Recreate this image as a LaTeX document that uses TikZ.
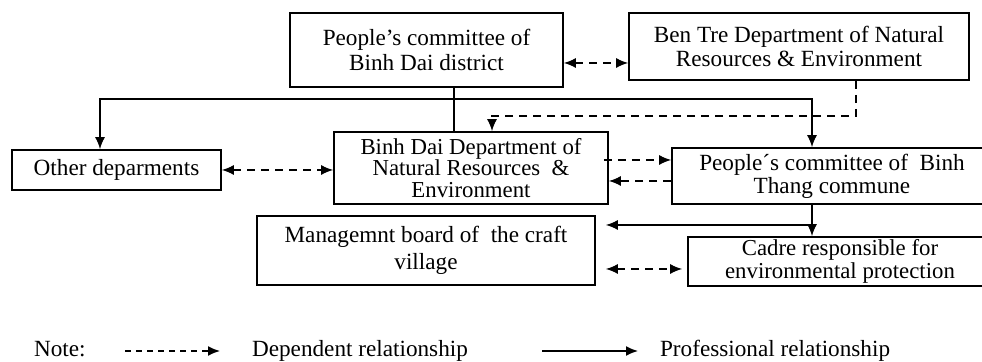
\documentclass[tikz,border=0pt]{standalone}
\usepackage{fontspec}
\setmainfont{Liberation Serif}
\usetikzlibrary{arrows.meta}

\begin{document}
\begin{tikzpicture}[x=0.5pt,y=-0.5pt,
    box/.style={draw,line width=0.8pt,align=center,inner sep=0pt,font=\fontsize{11.6}{12.5}\selectfont},
    dep/.style={line width=0.8pt,dash pattern=on 4pt off 3pt},
    prof/.style={line width=0.8pt},
    >={Latex[length=6pt,width=5pt]}]
  \useasboundingbox (0,0) rectangle (982,362);
  \node[box,minimum width=136.5pt,minimum height=37pt] (pc) at (426.5,50) {People’s committee of\\Binh Dai district};
  \node[box,minimum width=170pt,minimum height=33.5pt,font=\fontsize{11.6}{12}\selectfont] (bt) at (799,46.5) {Ben Tre Department of Natural\\Resources \& Environment};
  \node[box,minimum width=104.5pt,minimum height=20pt] (other) at (116.5,170) {Other deparments};
  \node[box,minimum width=137pt,minimum height=36pt,font=\fontsize{11.4}{10.6}\selectfont] (bd) at (471,168) {Binh Dai Department of\\Natural Resources\ \ \&\\Environment};
  \node[box,minimum width=160pt,minimum height=28pt,font=\fontsize{11.6}{10.5}\selectfont] (com) at (832,176) {People´s committee of\ \ Binh\\Thang commune};
  \node[box,minimum width=169pt,minimum height=34.5pt,font=\fontsize{11.6}{13.5}\selectfont] (board) at (426,250.5) {Managemnt board of\ \ the craft\\village};
  \node[box,minimum width=152pt,minimum height=24.5pt,font=\fontsize{11.4}{9.6}\selectfont] (cadre) at (840,261.5) {Cadre responsible for\\environmental protection};

  \coordinate (hub) at (454,99);
  \coordinate (col) at (812,99);
  \draw[prof] (pc.south -| hub) -- (bd.north -| hub);
  \draw[prof,<->] ([xshift=-8.25pt]other.north) |- (col) -- (col |- com.north);
  \draw[prof,->] (com.south -| col) -- (cadre.north -| col);
  \draw[prof,->,shorten >=5pt] (col |- 0,225) -- (board.east |- 0,225);

  \draw[dep,<->] (pc.east |- 0,63) -- (bt.west |- 0,63);
  \draw[dep,->] ([xshift=28.5pt]bt.south) |- (492,116) -- (bd.north -| 492,0);
  \draw[dep,<->] (other.east) -- (other.east -| bd.west);
  \draw[dep,->] ([xshift=-2.5pt]bd.east |- 0,160) -- (com.west |- 0,160);
  \draw[dep,->] (com.west |- 0,181) -- (bd.east |- 0,181);
  \draw[dep,<->,shorten <=5pt,shorten >=2.5pt] (board.east |- 0,269) -- (cadre.west |- 0,269);

  \node[anchor=base west,font=\fontsize{11.6}{12}\selectfont] (note) at (27,357) {Note:};
  \node[anchor=base west,font=\fontsize{11.6}{12}\selectfont] (deptxt) at (245,357) {Dependent relationship};
  \node[anchor=base west,font=\fontsize{11.6}{12}\selectfont] (proftxt) at (653,357) {Professional relationship};
  \coordinate (d1) at (125,351);
  \coordinate (p1) at (542,351);
  \draw[prof,dash pattern=on 3pt off 2.5pt,->] (d1) -- (d1 -| 220,0);
  \draw[prof,->] (p1) -- (p1 -| 638,0);
\end{tikzpicture}
\end{document}
